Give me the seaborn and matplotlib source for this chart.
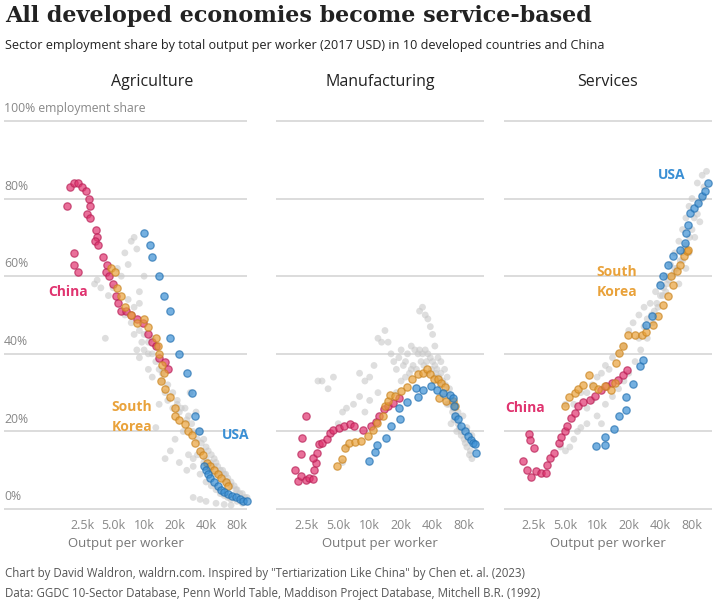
import numpy as np
import pandas as pd
import matplotlib
matplotlib.use("Agg")
import matplotlib.pyplot as plt
import seaborn as sns

sns.set_style("white")
plt.rcParams['font.family'] = ['Open Sans', 'DejaVu Sans']

# ---- data: (output per worker in k 2017 USD, employment share %) ----
agri_china = [[1.8,78],[1.9,83],[2.1,84],[2.3,84],[2.5,83],[2.7,82],[2.9,80],[3.0,78],[2.8,76],[3.0,75],
              [3.4,72],[3.5,70],[3.3,69],[3.6,68],[2.1,66],[2.1,63],[2.3,61],[4.0,65],[4.4,63],[4.3,61],
              [4.6,60],[5.0,58],[5.3,55],[5.6,53],[6.0,51],[6.6,51],[7.5,50],[8.6,49],[9.8,48],[11,45],
              [12,43],[13,42],[14,39],[16,38],[17,36]]
agri_korea = [[4.8,62],[5.2,61],[5.5,57],[6,55],[6.5,52],[7.5,50],[8.5,48],[10,49],[11,47],[13,44],
              [13.5,42],[14,40],[15,37],[15.5,35],[14.5,33],[16,31],[18,29],[20,26],[20,24],[22,23],
              [25,22],[27,20],[29,19],[31,17],[35,15],[37,14],[41,12],[44,11],[48,10],[52,9],[56,8],
              [62,7],[66,6]]
agri_usa = [[10,71],[11.5,68],[12,65],[14,60],[15.5,55],[18,51],[18,44],[22,40],[26,35],[29,30],
            [31,24],[34,20],[38,11],[40,10],[42,9],[44,8],[48,7],[52,6],[56,5],[60,4.5],[66,4],
            [72,3.5],[78,3],[85,2.5],[92,2.2],[100,2.0]]
agri_other = [[3.3,58],[3.5,59],[3.8,57],[4.5,55],[4.2,44],[5.5,62],[6,60],[6.5,66],[7,63],[7.5,69],
              [8,70],[8.5,67],[7,54],[8,52],[9,53],[10,60],[9,46],[9.5,43],[10,41],[11,40],[8.5,41],
              [9,39],[12,44],[13,42],[11,36],[12,34],[14,36],[15,33],[16,30],[14,27],[13,21],[17,28],
              [19,26],[21,27],[22,25],[25,26],[27,24],[29,22],[24,20],[20,18],[18,15],[16,13],[22,12],
              [26,10],[30,11],[33,14],[36,17],[40,16],[45,14],[50,12],[55,10],[60,9],[65,8],[70,7],
              [75,6],[80,5],[90,4],[100,3],[35,9],[40,7],[45,6],[50,5],[55,4],[60,3.5],[65,3],[70,2.5],
              [80,2],[90,1.5],[30,3],[35,2.5],[40,2],[50,1.5],[60,1.2],[70,1],[28,30],[32,25],[35,20],
              [38,18],[42,15],[48,13],[52,11],[58,10],[62,9],[38,12],[44,10],[48,9],[27,14],[30,13],
              [7.5,48],[8,45],[6.5,50],[9,56],[5,57],[10,45],[11,43],[12,40],[13,38],[15,35],[17,32],
              [19,30],[21,28],[23,26],[26,23],[30,20],[33,18],[36,15],[40,13],[44,12],[48,11],[53,9],
              [58,8],[64,7],[70,6],[78,5],[85,4],[95,3]]

manu_china = [[1.94,10],[2.08,7.2],[2.2,8.5],[2.47,7.6],[2.65,8.1],[2.85,7.8],[2.96,10.2],[3.07,11.9],
              [2.9,13.2],[3.1,14.5],[2.2,14.2],[2.25,18.4],[2.47,24],[3.3,16.7],[3.5,17.1],[3.9,18.1],
              [4.2,19.7],[4.5,20.3],[5.1,21],[5.7,21.4],[6.5,22],[7.1,21.4],[8.6,20.5],[10.3,21.4],
              [11.5,22.4],[12.4,24.1],[13.7,25.7],[15,26.5],[16.6,27.4],[18.9,28.5]]
manu_korea = [[4.9,11.2],[5.4,13],[5.8,15.8],[6.4,17.1],[7.2,17.3],[8.3,17.5],[9.6,18.8],[10.7,20.5],
              [11.8,22.2],[13.4,24.1],[14.1,26.5],[15,27.8],[15.5,29.5],[17.3,29.1],[20,30.4],
              [22.8,31.5],[25.3,33.6],[28.8,34.7],[32,35.1],[35,36],[38,34.7],[40.8,33.6],[45,33.4],
              [48.5,32.5],[52,31.5],[46,28.7],[54,27.8],[62,27.8],[66,26.5]]
manu_usa = [[9.9,12.4],[11.3,14.7],[11.8,16.5],[14.4,18.4],[16.1,21.4],[19.4,23.1],[19,26.1],
            [22.8,27.6],[28,31.2],[28.8,28.9],[32,30.8],[39,31.7],[43.6,30.8],[50.2,30],[58,29.5],
            [62,28.7],[64,26.5],[66,24.1],[70,23.1],[75,21.4],[81,20.1],[87,18.8],[93,17.9],
            [98,17.1],[102,16.7],[105,14.5]]
manu_other = [[3.2,33],[3.5,33],[4,31],[4.5,34],[5,22],[5.5,25],[6,26],[7,27],[8,29],[8,35],[9,33],
              [10,34],[11,37],[12,44],[13,43],[14,46],[15,43],[16,40],[17,38],[18,36],[19,39],[20,41],
              [21,37],[22,38],[23,40],[25,42],[27,41],[29,40],[30,41],[32,40],[34,41],[36,40],[38,39],
              [40,38],[42,37],[44,36],[46,34],[48,35],[50,33],[53,32],[56,30],[58,31],[60,28],[63,26],
              [66,24],[70,22],[75,20],[80,18],[85,16],[90,14],[95,13],[30,51],[32,52],[34,50],[36,49],
              [38,47],[40,45],[42,42],[45,39],[48,38],[52,36],[55,34],[25,36],[22,34],[20,33],[12,30],
              [10,28],[9,25],[6,16],[5.5,12],[55,27],[62,25],[70,25],[78,24],[85,21],[95,19],[60,22],
              [68,20],[75,19],[18,30],[28,36],[33,37],[36,35],[42,34],[45,33],[50,30],[24,35],[26,37],
              [31,38],[35,38],[39,36],[43,35],[47,32],[52,29],[57,27],[64,23],[72,21],[82,17],[92,15]]

serv_china = [[1.96,12.5],[2.24,19.4],[2.28,17.9],[2.5,15.7],[2.14,10],[2.35,8.4],[2.63,9.7],[2.94,9.3],
              [3.24,9.3],[3.33,11.4],[3.53,13.1],[3.86,14.4],[4.3,17],[4.5,18.7],[4.9,20],[5.2,21.5],
              [5.7,23.5],[6.1,24.7],[6.6,26.5],[7.3,27.5],[8.5,28.2],[9.6,29.2],[10.9,30.8],[12.2,31.6],
              [13.9,32.5],[15.8,33.3],[17.7,34.6],[19.3,35.9]]
serv_korea = [[5,26.5],[5.4,29],[6.1,29.9],[6.6,30.9],[7.3,32],[8.4,34.6],[9.2,31.6],[10.1,30.9],
              [11.8,31.6],[13.6,30.8],[14.7,32.5],[15.2,37.6],[16.3,40.2],[17.6,41.9],[19.8,44.9],
              [23,44.9],[26.5,44.9],[29.4,45.5],[34,47.5],[38,49.7],[42.7,52.7],[47.6,54.8],[53,57.8],
              [51,60],[57,61.3],[61,63],[67,65.1],[72,66.4],[74,66.8]]
serv_usa = [[9.8,16.2],[11.8,16.6],[12,18.7],[14.5,20.6],[16.2,23.9],[19,25.6],[19,29],[22,32.2],
            [25.8,36.9],[27.4,38.3],[29.4,47.5],[33.6,49.8],[40,57.8],[42.7,60],[47.6,63],[53,65.1],
            [61,66.8],[68,68.6],[70,71.1],[74,73.3],[77,76.3],[84,77.6],[92,78.9],[100,80.6],
            [106,81.9],[113,84]]
serv_other = [[4.5,16],[5,15],[5.5,16],[6,18],[6.5,20],[7,21],[8,22],[5,27],[6,27],[7,30],[8,30],
              [9,32],[10,34],[11,35],[12,37],[13,36],[14,39],[16,40],[18,42],[20,46],[22,48],[25,50],
              [28,52],[32,53],[36,56],[40,58],[45,60],[50,63],[55,66],[60,69],[65,72],[70,75],[75,78],
              [80,80],[90,84],[100,86],[110,87],[10,24],[11,22],[12,27],[14,29],[16,31],[18,33],
              [20,35],[23,38],[26,41],[30,44],[34,48],[38,52],[42,55],[46,58],[52,60],[58,62],
              [64,66],[70,68],[80,72],[90,76],[100,80],[30,49],[35,51],[40,55],[45,56],[55,62],
              [65,64],[75,66],[8,26],[9,28],[25,44],[28,47],[60,58],[70,62],[85,70],[95,74],
              [33,50],[37,53],[43,57],[48,59],[54,61],[62,64],[68,67],[76,70],[84,75],[92,79],[104,83]]

x_ticks = [2500, 5000, 10000, 20000, 40000, 80000]
x_tick_labels = ["2.5k", "5.0k", "10k", "20k", "40k", "80k"]
y_grid = [0, 20, 40, 60, 80, 100]
y_labels = ["0%", "20%", "40%", "60%", "80%", "100% employment share"]

C_CHINA, C_KOREA, C_USA, C_GRAY = "#e0336f", "#e9a23b", "#3a8fd4", "#c8c8c8"
E_CHINA, E_KOREA, E_USA = "#b81f55", "#c98420", "#2470b0"

def frame(pts):
    a = np.array(pts, dtype=float)
    return pd.DataFrame({"x": a[:, 0] * 1000, "y": a[:, 1]})

W, H = 727, 609
fig = plt.figure(figsize=(W / 100, H / 100), dpi=100)

def px_axes(x0, x1, y0=117, y1=513):
    return fig.add_axes([x0 / W, 1 - y1 / H, (x1 - x0) / W, (y1 - y0) / H])

panels = [
    (px_axes(4, 247), (435, 100000), agri_other, agri_china, agri_korea, agri_usa),
    (px_axes(276, 484), (1270, 124000), manu_other, manu_china, manu_korea, manu_usa),
    (px_axes(504, 712), (1300, 124000), serv_other, serv_china, serv_korea, serv_usa),
]

for i, (ax, xl, oth, ch, ko, us) in enumerate(panels):
    ax.set_xscale("log")
    ax.set_xlim(*xl)
    ax.set_ylim(-1, 101)
    for g in y_grid:
        ax.axhline(g, color="#d9d9d9", lw=1.3, zorder=0)
    sns.scatterplot(data=frame(oth), x="x", y="y", ax=ax, color=C_GRAY, s=24,
                    alpha=0.6, edgecolor="none", legend=False, zorder=1, clip_on=False)
    for d, c, e in [(ch, C_CHINA, E_CHINA), (ko, C_KOREA, E_KOREA), (us, C_USA, E_USA)]:
        sns.scatterplot(data=frame(d), x="x", y="y", ax=ax, color=c, s=28, alpha=0.7,
                        edgecolor=e, linewidth=0.9, legend=False, zorder=2, clip_on=False)
    ax.set_xticks(x_ticks)
    ax.set_xticklabels(x_tick_labels)
    ax.minorticks_off()
    ax.tick_params(axis="x", length=0, labelsize=9, colors="#888888", pad=4)
    ax.set_yticks([])
    ax.set_xlabel("Output per worker", fontsize=9.5, color="#777777", labelpad=4)
    ax.set_ylabel("")
    for s in ax.spines.values():
        s.set_visible(False)
    if i == 0:
        for g, lab in zip(y_grid, y_labels):
            ax.text(0.0, g + 1.5, lab, transform=ax.get_yaxis_transform(), fontsize=8.8,
                    color="#888888", ha="left", va="bottom")

def ftext(x, y, s, **kw):
    fig.text(x / W, 1 - y / H, s, **kw)

ftext(5, 16, "All developed economies become service-based", fontsize=16, fontweight="bold",
      family="DejaVu Serif", color="#222222", va="center")
ftext(5, 46, "Sector employment share by total output per worker (2017 USD) in 10 developed countries and China",
      fontsize=9.1, color="#222222", va="center")
for x, t in [(152, "Agriculture"), (380, "Manufacturing"), (608, "Services")]:
    ftext(x, 82, t, fontsize=11.5, ha="center", va="center", color="#222222")

lab = dict(fontsize=10, fontweight="bold", va="center")
ftext(68, 292, "China", color=C_CHINA, ha="center", **lab)
ftext(132, 417, "South\nKorea", color=C_KOREA, ha="center", linespacing=1.6, **lab)
ftext(236, 435, "USA", color=C_USA, ha="center", **lab)
ftext(525, 408, "China", color=C_CHINA, ha="center", **lab)
ftext(617, 282, "South\nKorea", color=C_KOREA, ha="center", linespacing=1.6, **lab)
ftext(672, 175, "USA", color=C_USA, ha="center", **lab)

ftext(5, 574, 'Chart by David Waldron, waldrn.com. Inspired by "Tertiarization Like China" by Chen et. al. (2023)',
      fontsize=8.3, color="#555555", va="center")
ftext(5, 593, "Data: GGDC 10-Sector Database, Penn World Table, Maddison Project Database, Mitchell B.R. (1992)",
      fontsize=8.3, color="#555555", va="center")

fig.savefig("out.png", dpi=100)
